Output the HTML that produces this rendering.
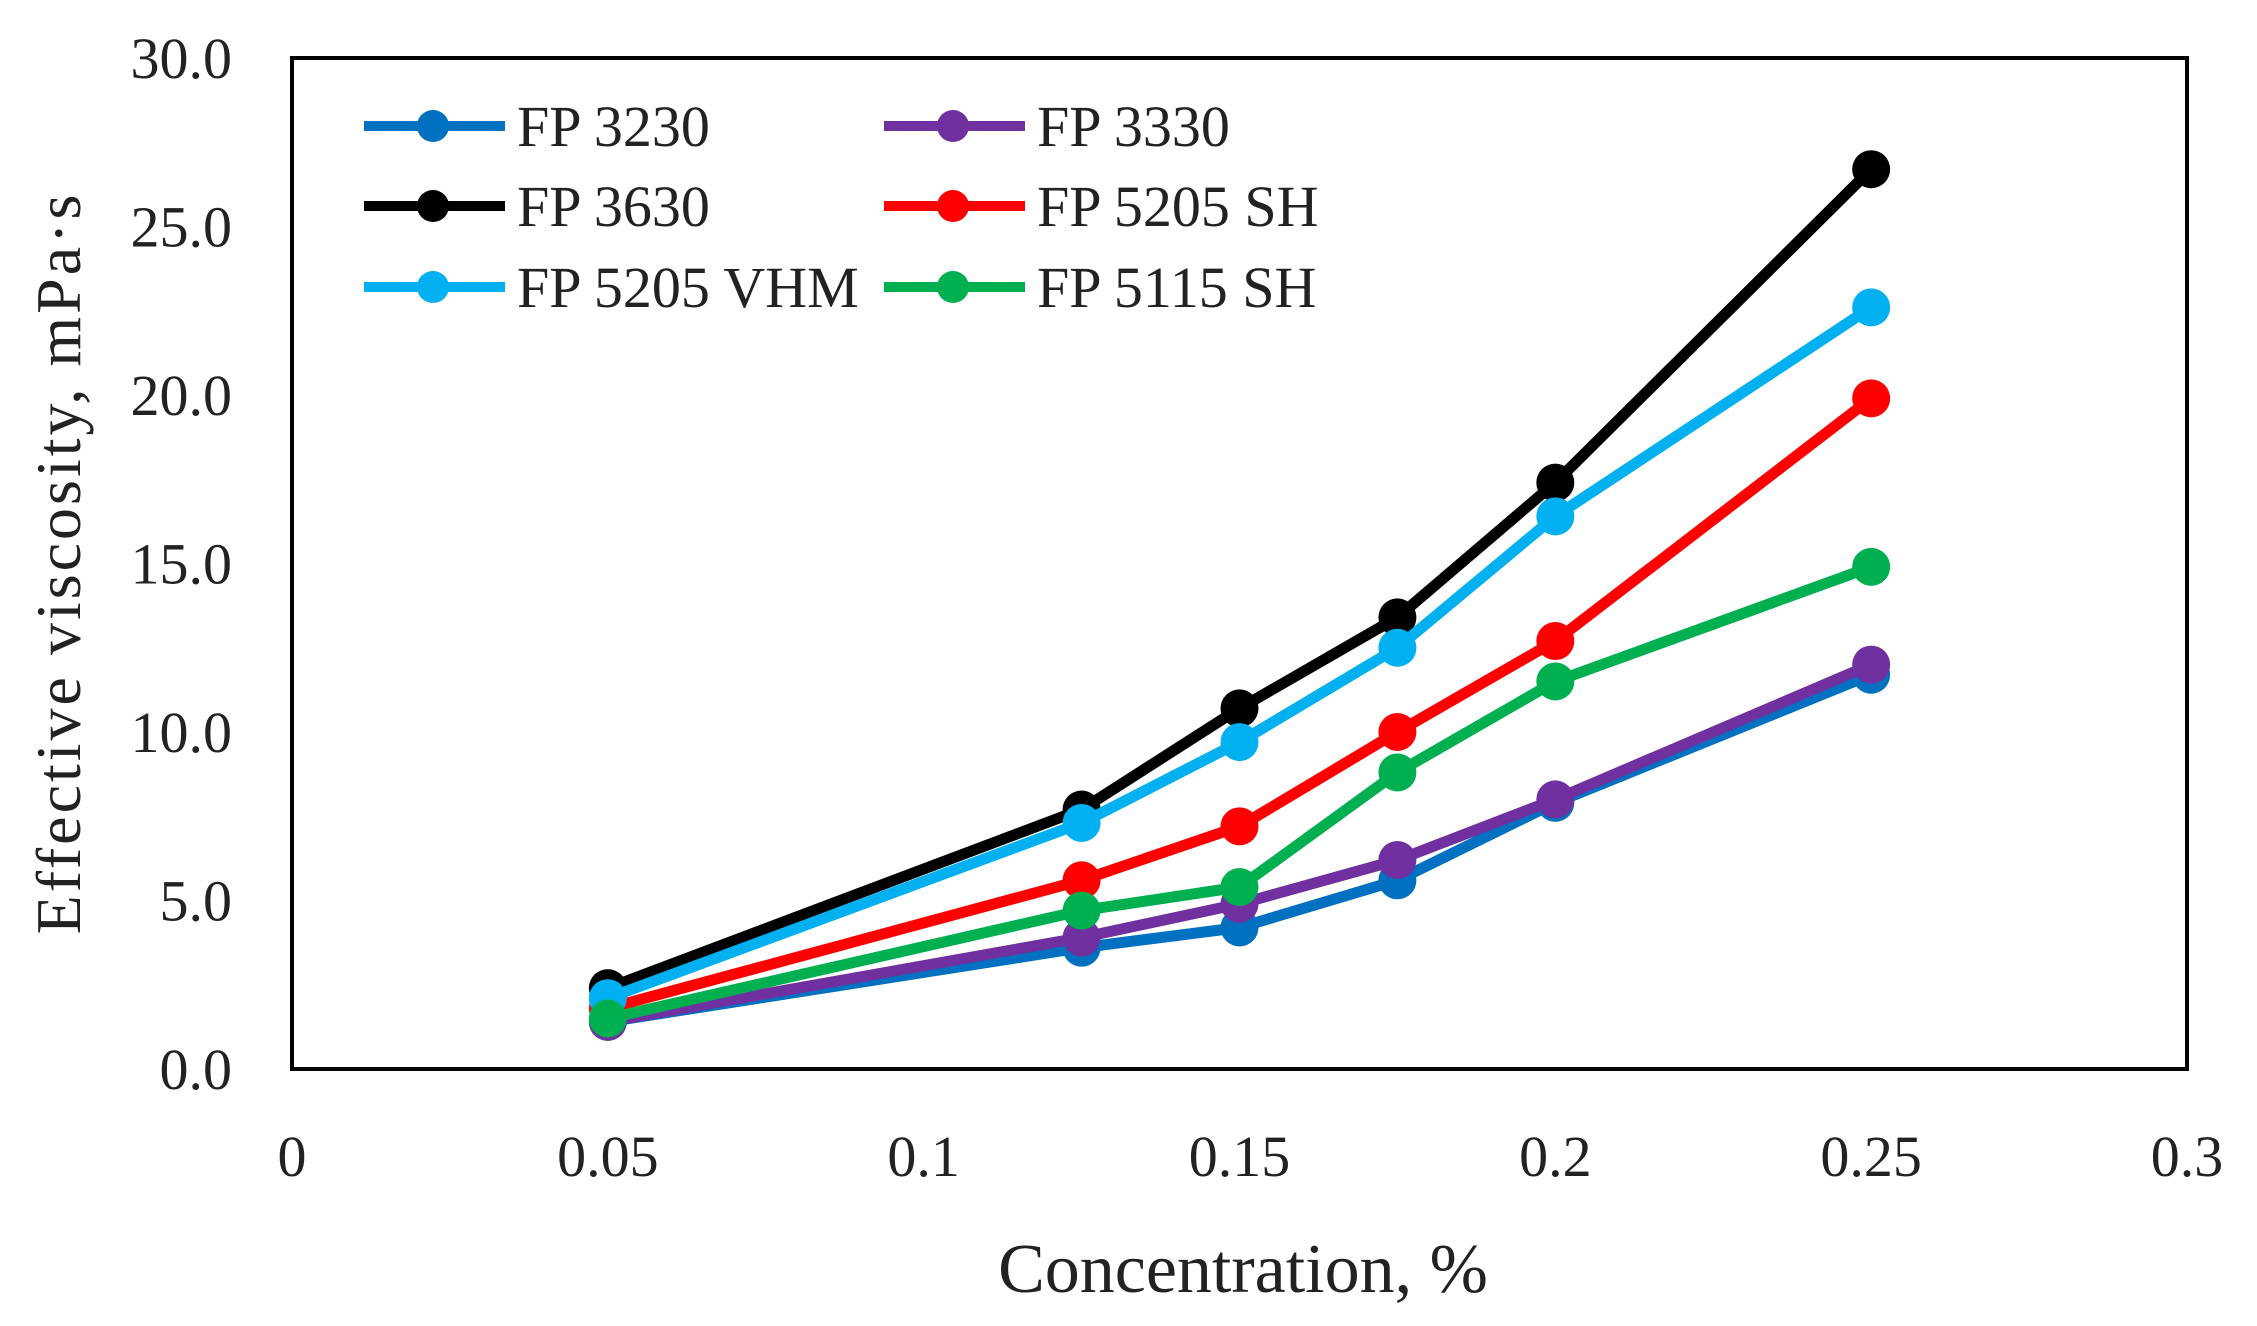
<!DOCTYPE html>
<html><head><meta charset="utf-8"><style>
html,body{margin:0;padding:0;background:#fff;}
svg{display:block;font-family:"Liberation Serif",serif;}
</style></head><body>
<svg id="chart" width="2257" height="1326" viewBox="0 0 2257 1326">
<rect x="0" y="0" width="2257" height="1326" fill="#fff"/>
<g id="series"></g>
<rect x="292" y="58" width="1895" height="1011" fill="none" stroke="#000" stroke-width="4"/>
<g id="yticks" font-size="58" text-anchor="end" fill="#222"></g>
<g id="xticks" font-size="58" text-anchor="middle" fill="#222"></g>
<text x="1243" y="1292" font-size="70" text-anchor="middle" fill="#222">Concentration,  %</text>
<text transform="translate(80,563) rotate(-90)" font-size="64" text-anchor="middle" fill="#222" letter-spacing="3">Effective viscosity, mPa·s</text>
<g id="legend" font-size="58" fill="#222"></g>
</svg>
<script>
const xValues = [0.05, 0.125, 0.15, 0.175, 0.2, 0.25];
const seriesNames = ["FP 3230", "FP 3330", "FP 3630", "FP 5205 SH", "FP 5205 VHM", "FP 5115 SH"];
const seriesColors = ["#0070c0", "#7030a0", "#000000", "#ff0000", "#00b0f0", "#00b050"];
const fp3230 = [1.4, 3.6, 4.2, 5.6, 7.9, 11.7];
const fp3330 = [1.4, 3.9, 4.9, 6.2, 8.0, 12.0];
const fp3630 = [2.4, 7.7, 10.7, 13.4, 17.4, 26.7];
const fp5205sh = [1.8, 5.6, 7.2, 10.0, 12.7, 19.9];
const fp5205vhm = [2.1, 7.3, 9.7, 12.5, 16.4, 22.6];
const fp5115sh = [1.5, 4.7, 5.4, 8.8, 11.5, 14.9];
const yTickLabels = ["0.0", "5.0", "10.0", "15.0", "20.0", "25.0", "30.0"];
const xTickLabels = ["0", "0.05", "0.1", "0.15", "0.2", "0.25", "0.3"];
const yTicks = [0, 5, 10, 15, 20, 25, 30];
const xTicks = [0, 0.05, 0.1, 0.15, 0.2, 0.25, 0.3];

const NS = "http://www.w3.org/2000/svg";
const L = 292, R = 2187, T = 58, B = 1069;
function xs(v){ return L + (v - 0) / 0.3 * (R - L); }
function ys(v){ return B - v / 30 * (B - T); }
function mk(tag, attrs, parent){ const e = document.createElementNS(NS, tag); for (const k in attrs) e.setAttribute(k, attrs[k]); parent.appendChild(e); return e; }

const yg = document.getElementById("yticks");
yTicks.forEach((t, i) => {
  const e = mk("text", {x: 232, y: ys(t) + 20}, yg);
  e.textContent = yTickLabels[i];
  
  
});
const xg = document.getElementById("xticks");
xTicks.forEach((t, i) => {
  const e = mk("text", {x: xs(t), y: 1176}, xg);
  e.textContent = xTickLabels[i];
  
  
});

const allSeries = [fp3230, fp3330, fp3630, fp5205sh, fp5205vhm, fp5115sh];
const sg = document.getElementById("series");
allSeries.forEach((vals, si) => {
  const g = mk("g", {}, sg);
  
  
  const pts = vals.map((v, i) => xs(xValues[i]).toFixed(1) + "," + ys(v).toFixed(1)).join(" ");
  const pl = mk("polyline", {points: pts, fill: "none", stroke: seriesColors[si], "stroke-width": 11, "stroke-linejoin": "round"}, g);
  
  
  vals.forEach((v, i) => {
    const c = mk("circle", {cx: xs(xValues[i]), cy: ys(v), r: 19, fill: seriesColors[si]}, g);
    
    
  });
});

const lg = document.getElementById("legend");
const legX = [364, 884], legY = [126, 206, 287];
seriesNames.forEach((n, i) => {
  const col = i % 2, row = Math.floor(i / 2);
  const g = mk("g", {}, lg);
  
  
  const x0 = legX[col], y0 = legY[row];
  mk("line", {x1: x0, y1: y0, x2: x0 + 141, y2: y0, stroke: seriesColors[i], "stroke-width": 10}, g);
  mk("circle", {cx: x0 + 69, cy: y0, r: 16, fill: seriesColors[i]}, g);
  const t = mk("text", {x: x0 + 153, y: y0 + 20}, g);
  t.textContent = n;
});
</script>
</body></html>
